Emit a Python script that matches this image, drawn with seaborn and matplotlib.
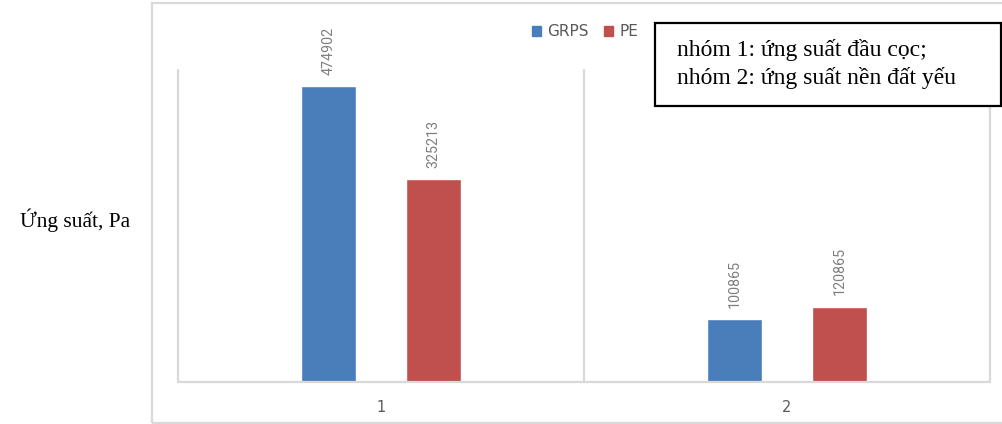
import matplotlib
matplotlib.use("Agg")
import matplotlib.pyplot as plt
from matplotlib.patches import Rectangle
import seaborn as sns
import pandas as pd

# --- data ---
groups = ["1", "2"]
series = ["GRPS", "PE"]
grps_values = [474902, 100865]
pe_values = [325213, 120865]
y_label = "Ứng suất, Pa"
note_lines = ["nhóm 1: ứng suất đầu cọc;", "nhóm 2: ứng suất nền đất yếu"]

colors = {"GRPS": "#4A7EBB", "PE": "#C0504D"}
grid_gray = "#D9D9D9"
text_gray = "#7F7F7F"

df = pd.DataFrame({
    "group": groups * 2,
    "series": [series[0]] * len(groups) + [series[1]] * len(groups),
    "value": grps_values + pe_values,
})

sns.set_theme(style="white")
plt.rcParams["font.family"] = ["DejaVu Sans"]

W, H = 1003, 424
fig = plt.figure(figsize=(W / 100, H / 100), dpi=100)

def fx(px):
    return px / W

def fy(py):
    return 1 - py / H

# plot area
ax = fig.add_axes([fx(178), fy(382), fx(990) - fx(178), (382 - 70) / H])

sns.barplot(data=df, x="group", y="value", hue="series", order=groups,
            hue_order=series, palette=colors, width=0.518, gap=0.47,
            ax=ax, legend=False, saturation=1)

ax.set_xlim(-0.5, len(groups) - 0.5)
ax.set_ylim(0, 500000)
for s in ax.spines.values():
    s.set_visible(False)
ax.set_yticks([])
ax.set_xlabel("")
ax.set_ylabel("")
ax.tick_params(axis="x", length=0, pad=13, labelsize=10.5, labelcolor="#595959")

# category separators and baseline
for xv in [-0.5 + i for i in range(len(groups) + 1)]:
    ax.axvline(xv, color=grid_gray, lw=1.6, zorder=0, clip_on=False)
ax.axhline(0, color=grid_gray, lw=1.6, zorder=3, clip_on=False)

# value labels
for cont in ax.containers:
    ax.bar_label(cont, fmt="%d", rotation=90, padding=8, fontsize=10.3,
                 color=text_gray, family=["Roboto", "DejaVu Sans"])

# legend
handles = [Rectangle((0, 0), 1, 1, color=colors[s]) for s in series]
fig.legend(handles, series, loc="center", bbox_to_anchor=(fx(585), fy(32)),
           ncol=2, frameon=False, fontsize=11, labelcolor="#595959",
           handlelength=0.6, handleheight=0.6, handletextpad=0.4,
           columnspacing=1.0)

# outer chart frame
fig.patches.append(Rectangle((fx(152), fy(423)), fx(1010) - fx(152),
                             (423 - 3) / H, transform=fig.transFigure,
                             fill=False, edgecolor=grid_gray, lw=1.6,
                             zorder=0))

# note box
fig.patches.append(Rectangle((fx(655), fy(106)), fx(1001) - fx(655),
                             (106 - 23) / H, transform=fig.transFigure,
                             facecolor="white", edgecolor="black", lw=1.6,
                             zorder=5))
fig.text(fx(677), fy(64), "\n".join(note_lines), ha="left", va="center",
         fontsize=17, family=["Liberation Serif"], color="black",
         linespacing=1.32, zorder=6)

# axis title
fig.text(fx(130), fy(220), y_label, ha="right", va="center", fontsize=15.5,
         family=["Liberation Serif"], color="black")

fig.savefig("out.png", dpi=100)
